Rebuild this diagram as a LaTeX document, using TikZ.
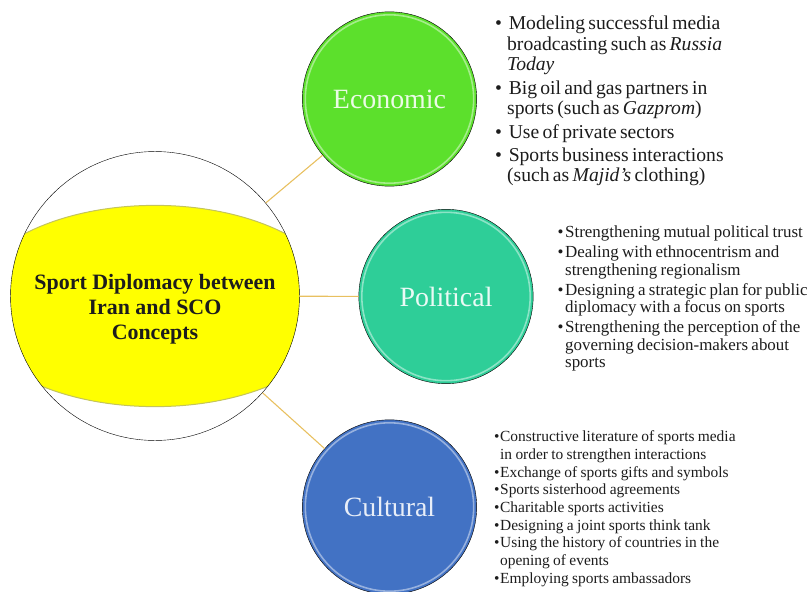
\documentclass[tikz,border=0pt]{standalone}
\usepackage{fontspec}
\setmainfont{Liberation Serif}
\usepackage{tikz}

\definecolor{coreyellow}{RGB}{255,255,0}
\definecolor{bandedge}{RGB}{196,196,92}
\definecolor{econgreen}{RGB}{92,224,44}
\definecolor{politteal}{RGB}{46,206,152}
\definecolor{cultblue}{RGB}{66,114,196}
\definecolor{linkgold}{RGB}{232,192,96}
\definecolor{listink}{RGB}{28,28,28}

\tikzstyle{concept} = [circle, minimum size = 175, inner sep = 0pt, draw = black, 
	thin, text = white!90!yellow, font = \fontsize{28}{30}\selectfont, 
	path picture = {\draw [white, opacity = 0.45, line width = 1.6pt] 
		(path picture bounding box.center) circle (84.5pt);}]
\tikzstyle{link} = [draw = linkgold, line width = 1.1pt]
\tikzstyle{pointbox} = [inner sep = 0pt, anchor = north west, text = listink]

\newenvironment{pointlist}[3]{\begin{list}{\textbullet}{%
	\setlength{\leftmargin}{#1}\setlength{\labelsep}{#2}%
	\setlength{\labelwidth}{\dimexpr#1-#2\relax}\setlength{\itemindent}{0pt}%
	\setlength{\itemsep}{#3}\setlength{\parsep}{0pt}%
	\setlength{\topsep}{0pt}\setlength{\partopsep}{0pt}}\raggedright}%
	{\end{list}}

\begin{document}
\begin{tikzpicture}[x = 1bp, y = -1bp]

\useasboundingbox (0, 0) rectangle (812, 592);

\begin{scope}
	\clip (155, 296) circle (145pt);
	\fill [coreyellow] (155, 306) ellipse (188pt and 101pt);
	\draw [bandedge, line width = 1pt] (155, 306) ellipse (188pt and 101pt);
\end{scope}
\node (core) [circle, minimum size = 290, inner sep = 0pt, draw = black, thin] 
	at (155, 296) {};
\node (coretitle) [align = center, text = listink, 
	font = \bfseries\fontsize{22}{25}\selectfont] at (155, 309)
	{Sport Diplomacy between\\Iran and SCO\\Concepts};

\node (econ) [concept, fill = econgreen, text = white!88!econgreen] at (389.5, 99) {Economic};
\node (polit) [concept, fill = politteal, text = white!90!politteal] at (446, 296.5) {Political};
\node (cult) [concept, fill = cultblue, text = white!88!cultblue] at (389.5, 507) {Cultural};

\draw [link] (core) -- (econ);
\draw [link] (core) -- (polit);
\draw [link] (core) -- (cult);

\node (econlist) [pointbox, text width = 300] at (495, 9.5)
{\fontsize{19.7}{20.3}\selectfont
\begin{pointlist}{12pt}{6.7pt}{3.5pt}
	\item Modeling successful media\newline broadcasting such as \textit{Russia}\newline\textit{Today}
	\item Big oil and gas partners in\newline sports (such as \textit{Gazprom})
	\item Use of private sectors
	\item Sports business interactions\newline (such as \textit{Majid's} clothing)
\end{pointlist}};

\node (politlist) [pointbox, text width = 300] at (555, 220)
{\fontsize{17}{17.6}\selectfont
\begin{pointlist}{10pt}{1.5pt}{2.4pt}
	\item Strengthening mutual political trust
	\item Dealing with ethnocentrism and\newline strengthening regionalism
	\item Designing a strategic plan for public\newline diplomacy with a focus on sports
	\item Strengthening the perception of the\newline governing decision-makers about\newline sports
\end{pointlist}};

\node (cultlist) [pointbox, text width = 300] at (490, 424)
{\fontsize{15.5}{17.75}\selectfont
\begin{pointlist}{10pt}{0.7pt}{0pt}
	\item Constructive literature of sports media\newline in order to strengthen interactions
	\item Exchange of sports gifts and symbols
	\item Sports sisterhood agreements
	\item Charitable sports activities
	\item Designing a joint sports think tank
	\item Using the history of countries in the\newline opening of events
	\item Employing sports ambassadors
\end{pointlist}};

\end{tikzpicture}
\end{document}
